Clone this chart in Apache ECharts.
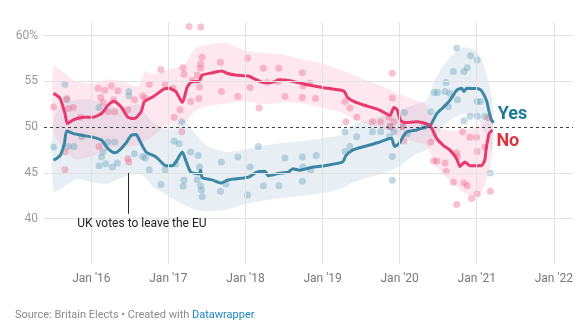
<!DOCTYPE html>
<html><head><meta charset="utf-8">
<script src="https://cdn.jsdelivr.net/npm/echarts@6/dist/echarts.min.js"></script>
<style>html,body{margin:0;padding:0;background:#fff}#c{width:576px;height:329px}</style>
</head><body><div id="c"></div>
<script>
const tickYears = [2016, 2017, 2018, 2019, 2020, 2021, 2022];
const yTicks = [40, 45, 50, 55, 60];
const gridYValues = [40, 45, 55, 60];
const brexitDate = 2016.475;

const noTrendDates = [2015.51,2015.595,2015.658,2015.69,2015.766,2015.895,2016.023,2016.131,2016.216,2016.29,2016.388,2016.473,2016.559,2016.646,2016.688,2016.795,2016.945,2017.01,2017.096,2017.181,2017.245,2017.309,2017.395,2017.417,2017.438,2017.567,2017.695,2017.76,2017.867,2018.039,2018.103,2018.232,2018.338,2018.446,2018.595,2018.768,2018.897,2019.067,2019.239,2019.282,2019.325,2019.411,2019.582,2019.733,2019.874,2019.925,2019.968,2020.01,2020.075,2020.225,2020.376,2020.418,2020.482,2020.569,2020.653,2020.74,2020.782,2020.846,2020.911,2021.061,2021.104,2021.125,2021.16,2021.203];
const noTrend = [53.7,53.15,51.5,50.4,50.8,51.1,51.1,51.5,52.4,52.85,52.2,51.1,50.95,51.7,52.8,53.3,54.2,54.25,53.9,52.7,54.4,55.0,55.0,55.35,55.7,55.95,56.15,55.9,55.7,55.6,55.35,54.9,54.9,55.2,55.05,54.7,54.5,54.25,54.05,53.9,53.25,52.8,52.3,51.9,51.3,52.15,51.9,50.75,50.5,50.6,50.3,49.85,48.75,48.0,47.5,46.55,45.7,46.2,45.8,45.8,46.4,47.8,49.3,49.7];

const yesTrendDates = [2015.51,2015.595,2015.65,2015.681,2015.766,2015.895,2016.023,2016.131,2016.216,2016.302,2016.367,2016.453,2016.517,2016.581,2016.624,2016.71,2016.839,2016.967,2017.052,2017.096,2017.181,2017.224,2017.289,2017.395,2017.417,2017.438,2017.567,2017.687,2017.76,2017.867,2018.039,2018.145,2018.253,2018.296,2018.424,2018.553,2018.617,2018.70,2018.853,2019.025,2019.26,2019.303,2019.389,2019.54,2019.711,2019.861,2019.895,2019.933,2019.99,2020.054,2020.096,2020.225,2020.268,2020.396,2020.482,2020.569,2020.653,2020.74,2020.804,2020.834,2020.868,2021.039,2021.125,2021.16,2021.19,2021.22];
const yesTrend = [46.4,46.9,48.2,49.6,49.3,49.1,48.9,48.6,47.65,47.2,47.5,48.3,49.1,49.2,48.6,47.3,46.75,45.8,45.8,46.2,47.3,46.4,45.1,44.9,45.3,44.5,44.25,43.9,44.2,44.35,44.55,45.1,45.2,44.7,44.95,45.1,45.45,45.3,45.6,45.8,46.2,46.9,47.5,47.9,48.3,48.75,48.8,47.9,48.2,49.1,49.5,49.7,49.85,50.2,51.5,52.2,52.95,54.05,54.25,53.9,54.25,54.15,52.95,51.7,50.8,50.5];

const bandDates = [2015.51,2015.65,2015.8,2016.0,2016.2,2016.4,2016.6,2016.7,2016.8,2017.0,2017.2,2017.35,2017.5,2017.75,2018.0,2018.25,2018.5,2018.75,2019.0,2019.25,2019.4,2019.6,2019.8,2020.0,2020.2,2020.35,2020.45,2020.55,2020.7,2020.85,2021.0,2021.1,2021.2];
const noHigh = [56.6,55.9,55.0,54.8,55.2,55.0,54.5,56.1,55.8,56.3,56.8,58.6,59.0,59.2,58.3,58.1,57.9,57.4,57.0,56.2,55.7,55.0,54.4,53.6,53.0,52.4,50.5,49.8,49.6,49.7,50.0,50.5,51.5];
const noLow = [49.5,47.5,46.5,46.8,47.5,47.8,48.0,48.5,49.0,50.3,50.5,51.8,52.3,52.6,52.8,52.5,52.7,52.6,52.1,51.6,50.9,50.3,49.8,49.0,48.4,48.0,46.0,45.0,43.8,42.8,42.5,43.5,47.0];
const yesHigh = [51.0,52.5,53.0,53.0,52.5,52.0,52.5,51.5,50.5,49.8,50.8,49.3,48.0,47.3,47.6,48.0,48.3,48.5,48.8,49.2,50.3,50.8,51.3,51.8,52.5,53.0,55.0,56.5,58.0,58.7,58.3,56.5,53.0];
const yesLow = [43.0,43.5,44.3,44.0,43.8,44.5,45.0,44.5,43.5,42.5,41.5,41.0,40.8,41.0,41.6,42.0,42.3,42.5,42.8,43.3,44.0,44.5,45.0,45.8,47.0,47.5,48.5,50.0,51.0,51.5,51.0,49.5,47.5];

const noPollDates = [2015.51,2015.658,2015.658,2015.681,2015.702,2015.766,2015.861,2016.087,2016.10,2016.122,2016.152,2016.174,2016.216,2016.26,2016.289,2016.302,2016.345,2016.473,2016.486,2016.473,2016.559,2016.666,2016.701,2016.752,2016.903,2016.958,2017.061,2017.074,2017.151,2017.173,2017.19,2017.203,2017.267,2017.289,2017.309,2017.374,2017.395,2017.404,2017.417,2017.417,2017.42,2017.438,2017.675,2017.687,2017.901,2018.026,2018.06,2018.176,2018.232,2018.283,2018.424,2018.433,2018.511,2018.737,2018.746,2018.737,2018.832,2018.909,2019.29,2019.303,2019.354,2019.444,2019.646,2019.753,2019.861,2019.874,2019.904,2019.904,2019.925,2020.032,2020.054,2020.405,2020.44,2020.482,2020.589,2020.602,2020.697,2020.74,2020.74,2020.749,2020.817,2020.834,2020.877,2020.911,2020.932,2020.997,2021.006,2021.006,2021.104,2021.147,2021.177];
const noPolls = [52.2,45.35,47.3,53.15,52.05,52.15,51.1,54.25,47.9,53.25,52.7,54.05,51.7,54.5,53.0,51.7,54.0,46.55,46.2,51.95,53.0,53.4,53.15,54.7,56.3,54.7,54.25,51.1,51.9,49.5,56.5,55.8,61.0,52.8,55.1,55.7,53.15,54.4,56.45,56.9,60.95,57.65,57.1,53.9,53.35,57.55,54.35,52.1,56.45,54.9,55.0,56.45,53.35,55.95,54.5,53.25,54.8,53.15,52.8,50.6,52.1,51.1,50.6,50.6,51.1,50.1,55.9,53.2,50.6,50.05,48.5,48.4,46.3,46.3,46.1,45.2,44.0,47.2,41.55,46.8,49.5,43.9,43.6,48.9,42.2,48.9,42.7,47.35,47.85,51.05,43.0];

const yesPollDates = [2015.51,2015.658,2015.681,2015.702,2015.775,2015.874,2016.10,2016.10,2016.152,2016.131,2016.216,2016.302,2016.186,2016.273,2016.337,2016.486,2016.486,2016.559,2016.666,2016.701,2016.752,2016.903,2016.958,2017.074,2017.173,2017.138,2017.096,2017.203,2017.19,2017.289,2017.386,2017.404,2017.374,2017.417,2017.43,2017.438,2017.687,2017.747,2017.675,2017.901,2018.06,2018.026,2018.167,2018.232,2018.433,2018.511,2018.737,2018.746,2018.737,2018.845,2018.917,2019.29,2019.29,2019.354,2019.444,2019.646,2019.753,2019.868,2019.904,2019.904,2019.874,2020.032,2020.062,2019.925,2020.096,2020.319,2020.405,2020.448,2020.491,2020.589,2020.602,2020.653,2020.633,2020.749,2020.697,2020.834,2020.877,2020.74,2020.92,2021.006,2021.006,2021.048,2020.834,2020.911,2021.006,2021.104,2021.177];
const yesPolls = [47.85,54.7,53.0,47.9,47.9,48.95,52.15,45.8,47.3,46.75,48.4,48.4,46.0,45.65,46.1,53.9,53.4,47.1,46.8,46.65,45.35,43.75,45.35,48.5,50.6,48.2,46.0,44.2,43.55,47.3,46.9,45.65,44.25,43.6,43.15,42.4,46.2,43.8,43.0,46.75,45.65,42.6,47.9,43.6,43.6,46.65,46.75,45.65,44.1,45.3,46.9,49.5,47.35,47.9,48.95,49.5,49.5,48.95,46.8,44.2,50.05,50.05,51.6,49.5,49.3,50.05,51.7,53.8,53.8,53.9,54.9,53.7,52.25,53.0,56.1,56.1,56.5,58.65,57.8,57.35,52.8,52.8,50.7,51.2,51.2,51.2,45.0];

const NO_COLOR = '#e8386d', YES_COLOR = '#3b86a5';
const FONT = 'Roboto';

function zip(a, b) { const n = Math.min(a.length, b.length); const out = []; for (let i = 0; i < n; i++) out.push([a[i], b[i]]); return out; }

function band(low, high, fill) {
  return {
    type: 'custom', z: 1, silent: true, animation: false,
    data: [[bandDates[0], low[0]]],
    renderItem: function (params, api) {
      const pts = [];
      for (let i = 0; i < bandDates.length; i++) pts.push(api.coord([bandDates[i], high[i]]));
      for (let i = bandDates.length - 1; i >= 0; i--) pts.push(api.coord([bandDates[i], low[i]]));
      return { type: 'polygon', shape: { points: pts, smooth: 0.25 }, style: { fill: fill } };
    }
  };
}

const chart = echarts.init(document.getElementById('c'), null, { renderer: 'canvas' });
chart.setOption({
  animation: false,
  textStyle: { fontFamily: FONT },
  title: {
    text: '{a|Source: Britain Elects • Created with }{b|Datawrapper}',
    left: 15, top: 310, padding: 0,
    textStyle: { fontWeight: 'normal', fontSize: 11, rich: {
      a: { color: '#8a8a8a', fontSize: 11, fontWeight: 'normal', fontFamily: FONT },
      b: { color: '#1d86c6', fontSize: 11, fontWeight: 'normal', fontFamily: FONT }
    } }
  },
  grid: { left: 44, right: 0, top: 22, bottom: 64.5 },
  xAxis: {
    type: 'value', min: 2015.386, max: 2022.25,
    axisLine: { show: false }, axisTick: { show: false }, splitLine: { show: false },
    axisLabel: {
      customValues: tickYears, color: '#777', fontSize: 12, margin: 8, fontFamily: FONT,
      formatter: v => "Jan '" + String(Math.round(v)).slice(2)
    }
  },
  yAxis: {
    type: 'value', min: 35, max: 61.5, interval: 5,
    axisLine: { show: false }, axisTick: { show: false }, splitLine: { show: false },
    axisLabel: {
      customValues: yTicks,
      color: '#999', fontSize: 12, margin: 6, fontFamily: FONT,
      formatter: v => (v === 60 ? '60%' : String(v))
    }
  },
  series: [
    {
      type: 'scatter', data: [], z: 0, silent: true,
      markLine: {
        silent: true, symbol: 'none', animation: false, label: { show: false },
        lineStyle: { color: '#e2e2e2', width: 1, type: 'solid' },
        data: tickYears.map(t => ({ xAxis: t })).concat(gridYValues.map(v => ({ yAxis: v })))
      }
    },
    band(yesLow, yesHigh, 'rgba(170,198,214,0.28)'),
    band(noLow, noHigh, 'rgba(250,170,195,0.28)'),
    {
      type: 'scatter', z: 2, silent: true, symbolSize: 7,
      itemStyle: { color: 'rgba(100,160,185,0.5)' },
      data: zip(yesPollDates, yesPolls)
    },
    {
      type: 'scatter', z: 2, silent: true, symbolSize: 7,
      itemStyle: { color: 'rgba(238,100,140,0.5)' },
      data: zip(noPollDates, noPolls)
    },
    {
      type: 'scatter', data: [], z: 3, silent: true,
      markLine: {
        silent: true, symbol: 'none', animation: false, label: { show: false },
        lineStyle: { color: '#444', width: 1, type: [3, 3] },
        data: [{ yAxis: 50 }]
      }
    },
    {
      type: 'line', z: 4, showSymbol: false, smooth: 0.2, silent: true,
      lineStyle: { color: YES_COLOR, width: 3 }, itemStyle: { color: YES_COLOR },
      data: zip(yesTrendDates, yesTrend),
      endLabel: { show: true, formatter: 'Yes', color: '#1a7a9c', fontSize: 18, fontWeight: 'bold', fontFamily: FONT, distance: 4, offset: [0, -8] }
    },
    {
      type: 'line', z: 4, showSymbol: false, smooth: 0.2, silent: true,
      lineStyle: { color: NO_COLOR, width: 3 }, itemStyle: { color: NO_COLOR },
      data: zip(noTrendDates, noTrend),
      endLabel: { show: true, formatter: 'No', color: '#dd3340', fontSize: 18, fontWeight: 'bold', fontFamily: FONT, distance: 4, offset: [0, 12] }
    },
    {
      type: 'scatter', data: [], z: 5, silent: true,
      markLine: {
        silent: true, symbol: 'none', animation: false, label: { show: false },
        lineStyle: { color: '#222', width: 1, type: 'solid' },
        data: [[{ coord: [brexitDate, 45] }, { coord: [brexitDate, 40.55] }]]
      },
      markPoint: {
        silent: true, symbol: 'circle', symbolSize: 0, animation: false,
        label: { show: true, position: 'inside', formatter: 'UK votes to leave the EU', color: '#222', fontSize: 12, fontFamily: FONT, offset: [14, 0] },
        data: [{ coord: [brexitDate, 39.43] }]
      }
    }
  ]
});
</script>
</body></html>
